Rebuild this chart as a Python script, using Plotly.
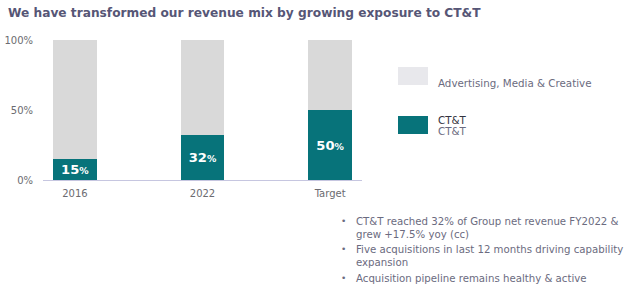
import plotly.graph_objects as go

categories = ["2016", "2022", "Target"]
ctt = [15, 32, 50]
amc = [85, 68, 50]
tick_vals = [0, 50, 100]
tick_text = ["0%", "50%", "100%"]
title = "We have transformed our revenue mix by growing exposure to CT&T"
legend_labels = ["Advertising, Media & Creative", "CT&T"]
bullets = [
    "CT&T reached 32% of Group net revenue FY2022 &<br>grew +17.5% yoy (cc)",
    "Five acquisitions in last 12 months driving capability<br>expansion",
    "Acquisition pipeline remains healthy & active",
]

TEAL = "#07737a"
GREY = "#d9d9d9"
FONT = "DejaVu Sans"

labels = [f"<b>{v}<span style='font-size:10px'>%</span></b>" for v in ctt]

fig = go.Figure()
fig.add_bar(x=categories, y=ctt, marker=dict(color=TEAL, line=dict(width=0)),
            width=0.34, text=labels, textposition="inside", insidetextanchor="middle",
            textfont=dict(family=FONT, size=14, color="white"), textangle=0,
            name="CT&T", showlegend=False)
fig.add_bar(x=categories, y=amc, marker=dict(color=GREY, line=dict(width=0)),
            width=0.34, name="Advertising, Media & Creative", showlegend=False)

fig.update_layout(
    barmode="stack",
    width=630, height=294,
    margin=dict(l=43, r=268, t=40, b=114, autoexpand=False),
    paper_bgcolor="white", plot_bgcolor="white",
    font=dict(family=FONT, color="#6b6b80"),
    uniformtext=dict(minsize=8, mode="show"),
)
fig.update_xaxes(range=[-0.25, 2.25], showline=True, linecolor="#c6c6e0", linewidth=1,
                 showgrid=False, ticks="outside", ticklen=4, tickcolor="rgba(0,0,0,0)",
                 tickfont=dict(size=10, color="#6b6b70"), zeroline=False, automargin=False)
fig.update_yaxes(range=[0, 100], tickvals=tick_vals, ticktext=tick_text, showgrid=False,
                 zeroline=False, showline=False, tickfont=dict(size=10, color="#6b6b70"),
                 ticks="outside", ticklen=7, tickcolor="rgba(0,0,0,0)", automargin=False)

fig.add_annotation(text=f"<b>{title}</b>", xref="paper", yref="paper", x=-37/319, y=1 + 27/140,
                   xanchor="left", yanchor="middle", showarrow=False,
                   font=dict(family=FONT, size=12.2, color="#565676"))

# legend (paper coordinates)
def px_x(p):
    return (p - 43) / 319
def px_y(p):
    return (180 - p) / 140

fig.add_shape(type="rect", xref="paper", yref="paper", x0=px_x(398), x1=px_x(428),
              y0=px_y(85), y1=px_y(67), fillcolor="#e8e8ec", line=dict(width=0))
fig.add_shape(type="rect", xref="paper", yref="paper", x0=px_x(398), x1=px_x(428),
              y0=px_y(134), y1=px_y(116), fillcolor=TEAL, line=dict(width=0))
fig.add_annotation(text=legend_labels[0], xref="paper", yref="paper", x=px_x(436), y=px_y(83),
                   xanchor="left", yanchor="middle", showarrow=False,
                   font=dict(family=FONT, size=10.3, color="#6b6b80"))
fig.add_annotation(text=legend_labels[1], xref="paper", yref="paper", x=px_x(436), y=px_y(120),
                   xanchor="left", yanchor="middle", showarrow=False,
                   font=dict(family=FONT, size=10.3, color="#333340"))
fig.add_annotation(text=legend_labels[1], xref="paper", yref="paper", x=px_x(436), y=px_y(131),
                   xanchor="left", yanchor="middle", showarrow=False,
                   font=dict(family=FONT, size=10.3, color="#6b6b80"))

bullet_first_line = [221, 249, 278]
for b, yy in zip(bullets, bullet_first_line):
    fig.add_annotation(text="•", xref="paper", yref="paper", x=px_x(339), y=px_y(yy),
                       xanchor="left", yanchor="middle", showarrow=False,
                       font=dict(family=FONT, size=9, color="#6b6b80"))
    fig.add_annotation(text=b, xref="paper", yref="paper", x=px_x(354), y=px_y(yy - 7),
                       xanchor="left", yanchor="top", align="left", showarrow=False,
                       font=dict(family=FONT, size=10.2, color="#6b6b80"))

fig.write_html("out.html")
